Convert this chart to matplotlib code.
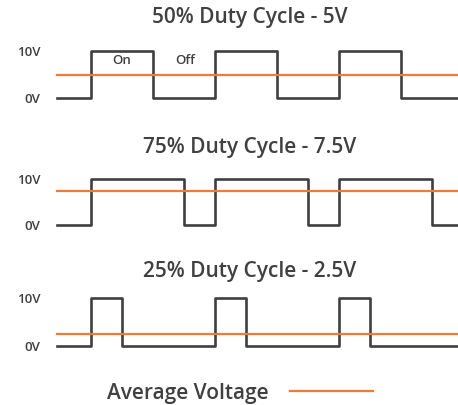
import matplotlib
matplotlib.use('Agg')
import matplotlib.pyplot as plt

plt.rcParams['font.family'] = ['Open Sans', 'DejaVu Sans']

# time in periods, voltage levels (steps-post)
t_50 = [-0.27, 0, 0.5, 1, 1.5, 2, 2.5, 2.96]
v_50 = [0, 10, 0, 10, 0, 10, 0, 0]
t_75 = [-0.27, 0, 0.75, 1, 1.75, 2, 2.75, 2.96]
v_75 = [0, 10, 0, 10, 0, 10, 0, 0]
t_25 = [-0.27, 0, 0.25, 1, 1.25, 2, 2.25, 2.96]
v_25 = [0, 10, 0, 10, 0, 10, 0, 0]
averages = [5, 7.5, 2.5]
titles = ['50% Duty Cycle - 5V', '75% Duty Cycle - 7.5V', '25% Duty Cycle - 2.5V']
ytick_vals = [0, 10]
ytick_labels = ['0V', '10V']

W, H = 458, 405
fig = plt.figure(figsize=(W / 100, H / 100), dpi=100)

dark = '#3f3f3f'
orange = '#f07a3a'
txt = '#404040'

# pixel rows of 0V / 10V lines and title centres
zero_px = [98, 225, 346]
ten_px = [51, 179, 298]
title_px = [18, 147, 272]

series = [(t_50, v_50), (t_75, v_75), (t_25, v_25)]
x0_px, x1_px = 57, 458

for i, (t, v) in enumerate(series):
    ppv = (zero_px[i] - ten_px[i]) / 10.0
    top = ten_px[i] - ppv
    bot = zero_px[i] + ppv
    ax = fig.add_axes([x0_px / W, 1 - bot / H, (x1_px - x0_px) / W, (bot - top) / H])
    ax.set_xlim(t[0], t[-1])
    ax.set_ylim(-1, 11)
    ax.step(t, v, where='post', color=dark, lw=1.9, clip_on=False, zorder=2)
    avg_line, = ax.plot([t[0], t[-1]], [averages[i], averages[i]], color=orange, lw=1.6,
                        clip_on=False, zorder=3)
    ax.set_xticks([])
    ax.set_yticks(ytick_vals)
    ax.set_yticklabels(ytick_labels, fontsize=9.5, color=txt, fontweight='semibold')
    ax.tick_params(axis='y', length=0, pad=12)
    for s in ax.spines.values():
        s.set_visible(False)
    ax.patch.set_alpha(0)
    fig.text(250 / W, 1 - title_px[i] / H, titles[i], ha='center', va='center',
             fontsize=15, color=txt, fontweight='semibold')
    if i == 0:
        ax.text(0.25, 7.9, 'On', ha='center', va='center', fontsize=9.5, color=txt,
                fontweight='semibold')
        ax.text(0.76, 7.9, 'Off', ha='center', va='center', fontsize=9.5, color=txt,
                fontweight='semibold')

avg_line.set_label('Average Voltage')
fig.legend(handles=[avg_line], loc='center', bbox_to_anchor=(240 / W, 1 - 393 / H),
           frameon=False, markerfirst=False, handlelength=4.0, handletextpad=1.0,
           prop={'size': 15, 'weight': 'semibold'}, labelcolor=txt)

fig.savefig('out.png', dpi=100)
